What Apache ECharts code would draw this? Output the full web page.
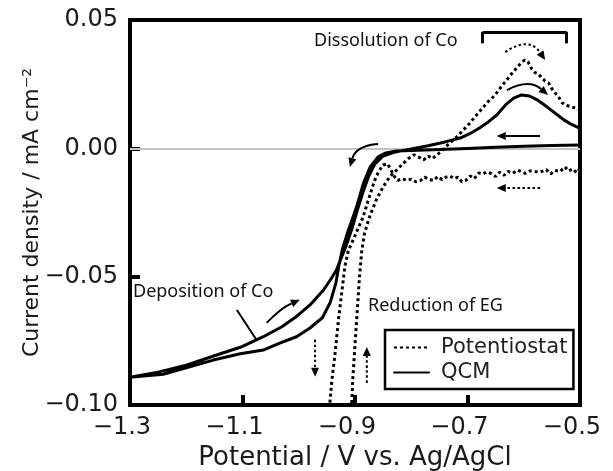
<!DOCTYPE html>
<html><head><meta charset="utf-8">
<script src="https://cdn.jsdelivr.net/npm/echarts@6/dist/echarts.min.js"></script>
<style>html,body{margin:0;padding:0;background:#fff}#c{width:613px;height:471px}</style>
</head><body><div id="c"></div>
<script>
// ---- data (V vs Ag/AgCl, mA cm^-2) ----
const xTicks = [-1.3, -1.1, -0.9, -0.7, -0.5];
const yTicks = [-0.10, -0.05, 0.00, 0.05];

const potentiostatCathodic = [
[-0.500,-0.0078],[-0.506,-0.0095],[-0.513,-0.0080],[-0.520,-0.0088],[-0.527,-0.0072],[-0.535,-0.0090],[-0.545,-0.0086],[-0.552,-0.0100],[-0.560,-0.0083],[-0.570,-0.0092],[-0.580,-0.0090],[-0.589,-0.0088],[-0.597,-0.0098],[-0.605,-0.0090],[-0.612,-0.0085],[-0.619,-0.0097],[-0.628,-0.0090],[-0.635,-0.0105],[-0.643,-0.0093],[-0.650,-0.0110],[-0.658,-0.0098],[-0.666,-0.0092],[-0.673,-0.0100],[-0.680,-0.0096],[-0.688,-0.0118],[-0.695,-0.0108],[-0.703,-0.0125],[-0.710,-0.0130],[-0.717,-0.0112],[-0.724,-0.0118],[-0.731,-0.0108],[-0.738,-0.0112],[-0.745,-0.0122],[-0.753,-0.0110],[-0.760,-0.0125],[-0.768,-0.0122],[-0.776,-0.0112],[-0.784,-0.0126],[-0.792,-0.0130],[-0.800,-0.0120],[-0.808,-0.0125],[-0.816,-0.0118],[-0.824,-0.0125],[-0.830,-0.0110],[-0.836,-0.0085],[-0.842,-0.0060],[-0.850,-0.0065],[-0.858,-0.0090],[-0.866,-0.0130],[-0.876,-0.0200],[-0.886,-0.0270],[-0.900,-0.0340],[-0.912,-0.0400],[-0.918,-0.0460],[-0.924,-0.0570],[-0.929,-0.0660],[-0.933,-0.0747],[-0.937,-0.0830],[-0.941,-0.0900],[-0.945,-0.1000],[-0.947,-0.1080]
];
const potentiostatAnodic = [
[-0.905,-0.1080],[-0.906,-0.1000],[-0.904,-0.0900],[-0.901,-0.0800],[-0.898,-0.0700],[-0.895,-0.0600],[-0.892,-0.0500],[-0.888,-0.0400],[-0.883,-0.0330],[-0.873,-0.0260],[-0.862,-0.0200],[-0.850,-0.0150],[-0.838,-0.0110],[-0.826,-0.0085],[-0.815,-0.0060],[-0.805,-0.0040],[-0.795,-0.0025],[-0.786,-0.0035],[-0.778,-0.0045],[-0.770,-0.0030],[-0.762,-0.0040],[-0.754,-0.0025],[-0.746,-0.0010],[-0.738,0.0008],[-0.729,0.0025],[-0.719,0.0045],[-0.708,0.0070],[-0.696,0.0098],[-0.684,0.0130],[-0.672,0.0160],[-0.662,0.0185],[-0.652,0.0205],[-0.642,0.0234],[-0.632,0.0262],[-0.621,0.0292],[-0.612,0.0315],[-0.604,0.0335],[-0.598,0.0344],[-0.592,0.0335],[-0.586,0.0310],[-0.580,0.0295],[-0.574,0.0290],[-0.568,0.0275],[-0.562,0.0262],[-0.556,0.0255],[-0.550,0.0232],[-0.544,0.0215],[-0.538,0.0200],[-0.532,0.0178],[-0.526,0.0168],[-0.520,0.0165],[-0.513,0.0160],[-0.506,0.0156],[-0.500,0.0150]
];
const qcmCathodic = [
[-0.500,0.0013],[-0.550,0.0011],[-0.600,0.0008],[-0.650,0.0004],[-0.700,-0.0001],[-0.750,-0.0005],[-0.800,-0.0008],[-0.826,-0.0010],[-0.845,-0.0018],[-0.859,-0.0033],[-0.873,-0.0072],[-0.885,-0.0136],[-0.897,-0.0227],[-0.912,-0.0320],[-0.922,-0.0390],[-0.928,-0.0450],[-0.934,-0.0525],[-0.944,-0.0600],[-0.958,-0.0660],[-0.980,-0.0700],[-1.004,-0.0734],[-1.035,-0.0760],[-1.063,-0.0786],[-1.104,-0.0800],[-1.152,-0.0825],[-1.200,-0.0855],[-1.241,-0.0880],[-1.300,-0.0892]
];
const qcmAnodic = [
[-1.300,-0.0885],[-1.250,-0.0872],[-1.200,-0.0845],[-1.150,-0.0808],[-1.100,-0.0772],[-1.063,-0.0734],[-1.030,-0.0695],[-1.004,-0.0655],[-0.980,-0.0610],[-0.956,-0.0552],[-0.943,-0.0510],[-0.933,-0.0474],[-0.924,-0.0425],[-0.915,-0.0375],[-0.905,-0.0310],[-0.895,-0.0235],[-0.885,-0.0165],[-0.875,-0.0105],[-0.865,-0.0062],[-0.850,-0.0030],[-0.830,-0.0015],[-0.800,-0.0002],[-0.770,0.0010],[-0.740,0.0025],[-0.713,0.0040],[-0.695,0.0058],[-0.678,0.0080],[-0.663,0.0103],[-0.648,0.0130],[-0.632,0.0170],[-0.618,0.0196],[-0.604,0.0208],[-0.590,0.0204],[-0.577,0.0190],[-0.565,0.0172],[-0.553,0.0152],[-0.540,0.0130],[-0.528,0.0110],[-0.515,0.0093],[-0.500,0.0078]
];

// annotation arrows (data coordinates)
const arrows = [
  {from:[-0.633,0.0375], to:[-0.562,0.0344], dotted:true,  curve:0.5},
  {from:[-0.630,0.0227], to:[-0.557,0.0208], dotted:false, curve:0.34},
  {from:[-0.571,0.0048], to:[-0.648,0.0048], dotted:false, curve:0},
  {from:[-0.571,-0.0155],to:[-0.648,-0.0155],dotted:true,  curve:0},
  {from:[-0.859,0.0017], to:[-0.909,-0.0073],dotted:false, curve:-0.35},
  {from:[-0.971,-0.0745],to:[-0.971,-0.0890],dotted:true,  curve:0},
  {from:[-0.879,-0.0914],to:[-0.879,-0.0774],dotted:true,  curve:0},
  {from:[-1.057,-0.0680],to:[-0.998,-0.0590],dotted:false, curve:0.1}
];
const plainSegments = [
  {from:[-0.673,0.0454], to:[-0.524,0.0454], w:3},
  {from:[-0.673,0.0454], to:[-0.673,0.0409], w:3},
  {from:[-0.524,0.0454], to:[-0.524,0.0409], w:3},
  {from:[-1.110,-0.0630],to:[-1.075,-0.0747],w:2}
];

const DOT = [3, 3];
const fmtY = v => Math.abs(v) < 1e-9 ? '0.00' : (v < 0 ? '\u2212' : '') + Math.abs(v).toFixed(2);
const fmtX = v => (v < 0 ? '\u2212' : '') + Math.abs(v).toFixed(1);

const segData = plainSegments.map(s => {
  const ls = {color:'#000', width:s.w, type:'solid'};
  return [{coord:s.from, symbol:'none', lineStyle:ls}, {coord:s.to, symbol:'none', lineStyle:ls}];
});

const axisFont = 'DejaVu Sans';
const textGraphics = [
  {type:'text', left:314, top:32, style:{text:'Dissolution of Co', fontFamily:'Noto Sans', fontSize:18, fill:'#111'}},
  {type:'text', left:133, top:283, style:{text:'Deposition of Co', fontFamily:'Noto Sans', fontSize:18, fill:'#111'}},
  {type:'text', left:368, top:297, style:{text:'Reduction of EG', fontFamily:'Noto Sans', fontSize:18, fill:'#111'}}
];

const chart = echarts.init(document.getElementById('c'), null, {renderer:'canvas', width:613, height:471});
chart.setOption({
  animation: false,
  backgroundColor: '#fff',
  color: ['#000', '#000'],
  grid: {left:130, right:33, top:20, bottom:66, show:true, borderColor:'#000', borderWidth:4,
         containLabel:false, outerBoundsMode:'none'},
  xAxis: {
    type:'value', min:-1.3, max:-0.5, interval:0.2,
    axisLine:{show:true, onZero:false, lineStyle:{color:'#000', width:4}},
    axisTick:{show:true, inside:true, length:10, lineStyle:{color:'#000', width:4}, customValues:[-1.1,-0.9,-0.7]},
    axisLabel:{customValues:xTicks, formatter:fmtX, fontFamily:axisFont, fontSize:24, color:'#1a1a1a', margin:11, padding:[0,16,0,0]},
    splitLine:{show:false},
    name:'Potential / V vs. Ag/AgCl', nameLocation:'middle', nameGap:40, nameMoveOverlap:false,
    nameTextStyle:{fontFamily:axisFont, fontSize:26, color:'#1a1a1a'}
  },
  yAxis: {
    type:'value', min:-0.1, max:0.05, interval:0.05,
    axisLine:{show:true, onZero:false, lineStyle:{color:'#000', width:4}},
    axisTick:{show:true, inside:true, length:10, lineStyle:{color:'#000', width:4}, customValues:[-0.05, 0]},
    axisLabel:{customValues:yTicks, formatter:fmtY, fontFamily:axisFont, fontSize:24, color:'#1a1a1a', margin:12},
    splitLine:{show:false},
    name:'Current density / mA cm\u207B\u00B2', nameLocation:'middle', nameGap:87, nameMoveOverlap:false,
    nameTextStyle:{fontFamily:axisFont, fontSize:22, color:'#1a1a1a'}
  },
  legend: {
    data:['Potentiostat','QCM'], orient:'vertical', left:385, top:330,
    borderColor:'#000', borderWidth:2.5, padding:[7,6,6,8],
    itemWidth:35, itemHeight:14, itemGap:4,
    itemStyle:{opacity:0},
    textStyle:{fontFamily:axisFont, fontSize:21, color:'#222', padding:[0,0,0,7]}
  },
  graphic: textGraphics,
  series: [
    {
      name:'Potentiostat', type:'line', symbol:'none', smooth:false, z:3,
      data: potentiostatCathodic.concat(potentiostatAnodic),
      itemStyle:{color:'#000'},
      lineStyle:{color:'#000', width:3, type:DOT},
      markLine:{silent:true, z:1, symbol:['none','none'], label:{show:false},
        lineStyle:{color:'#c4c4c4', width:2, type:'solid'}, data:[{yAxis:0}]}
    },
    {
      name:'QCM', type:'line', symbol:'none', smooth:false, z:4,
      data: qcmCathodic.concat(qcmAnodic),
      itemStyle:{color:'#000'},
      lineStyle:{color:'#000', width:3, type:'solid', cap:'round', join:'round'},
      markLine:{silent:true, z:6, symbol:['none','none'], label:{show:false}, data:segData}
    }
  ]
});

// curved / straight arrows drawn from data coordinates through the grid's scales
function arrowGraphics(a) {
  const p1 = chart.convertToPixel({gridIndex:0}, a.from);
  const p2 = chart.convertToPixel({gridIndex:0}, a.to);
  const dx = p2[0] - p1[0], dy = p2[1] - p1[1];
  const mx = (p1[0] + p2[0]) / 2, my = (p1[1] + p2[1]) / 2;
  const cp = [mx + a.curve * dy, my - a.curve * dx];
  let tx = p2[0] - cp[0], ty = p2[1] - cp[1];
  const tl = Math.hypot(tx, ty); tx /= tl; ty /= tl;
  const L = 9, W = 4;
  const base = [p2[0] - tx * L, p2[1] - ty * L];
  const head = [[p2[0], p2[1]], [base[0] - ty * W, base[1] + tx * W], [base[0] + ty * W, base[1] - tx * W]];
  return [
    {type:'bezierCurve', z:10, silent:true,
     shape:{x1:p1[0], y1:p1[1], x2:base[0], y2:base[1], cpx1:cp[0], cpy1:cp[1]},
     style:{stroke:'#000', fill:null, lineWidth:2, lineDash: a.dotted ? [2.5, 2.5] : null}},
    {type:'polygon', z:10, silent:true, shape:{points:head}, style:{fill:'#000'}}
  ];
}
const arrowEls = [];
arrows.forEach(a => arrowEls.push(...arrowGraphics(a)));
chart.setOption({graphic: textGraphics.concat(arrowEls)});
</script>
</body></html>
